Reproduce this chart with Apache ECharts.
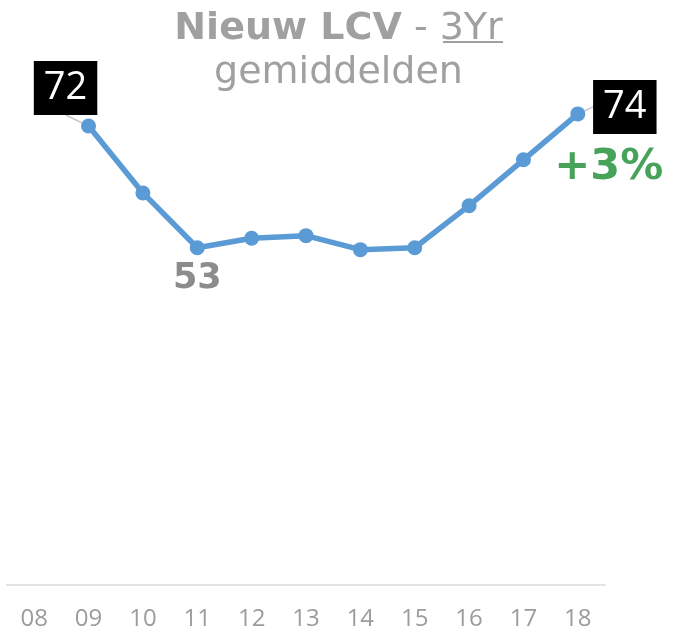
<!DOCTYPE html>
<html>
<head>
<meta charset="utf-8">
<script src="https://cdn.jsdelivr.net/npm/echarts@6/dist/echarts.min.js"></script>
<style>
  html, body { margin: 0; padding: 0; background: #fff; }
  #chart { width: 677px; height: 632px; }
</style>
</head>
<body>
<div id="chart"></div>
<script>
// data
const years = ['08', '09', '10', '11', '12', '13', '14', '15', '16', '17', '18'];
const lcv = [null, 72, 61.5, 52.9, 54.4, 54.8, 52.6, 52.9, 59.5, 66.7, 73.9];

const firstIdx = 1
const minIdx = 3
const lastIdx = lcv.length - 1
const change = Math.round((lcv[lastIdx] / lcv[firstIdx] - 1) * 100)

const grey = '#a0a0a0'
const blue = '#5b9bd5'

// per point labels
const boxLabel = {
  show: true,
  position: 'inside',
  formatter: p => Math.round(p.value),
  color: '#fff',
  fontSize: 38,
  fontFamily: 'Open Sans',
  lineHeight: 38,
  backgroundColor: '#000',
  padding: [8, 10, 8, 10]
}
const lineData = lcv.map((v, i) => {
  if (i === firstIdx || i === lastIdx) {
    return {
      value: v,
      label: boxLabel,
      labelLine: { show: true, lineStyle: { color: '#c8c8c8', width: 1.5 } }
    }
  }
  if (i === minIdx) {
    return {
      value: v,
      label: {
        show: true,
        position: 'bottom',
        distance: 6,
        formatter: p => Math.round(p.value),
        color: '#8c8c8c',
        fontSize: 35,
        fontWeight: 'bold',
        fontFamily: 'DejaVu Sans'
      }
    }
  }
  return v
})

const changeData = lcv.map((v, i) => i === lastIdx ? v : null)

var myChart = echarts.init(document.getElementById('chart'))
myChart.setOption({
  animation: false,
  title: {
    left: 'center',
    top: 2,
    text: '{b|Nieuw LCV}{n| - }{n|3Yr}\n{n|gemiddelden}',
    textStyle: {
      rich: {
        b: { fontSize: 38, fontWeight: 'bold', color: grey, fontFamily: 'DejaVu Sans', lineHeight: 44 },
        n: { fontSize: 38, fontWeight: 'normal', color: grey, fontFamily: 'DejaVu Sans', lineHeight: 44 }
      }
    }
  },
  graphic: [
    {
      // underline under 3Yr
      type: 'line',
      shape: { x1: 443, y1: 42, x2: 503, y2: 42 },
      style: { stroke: grey, lineWidth: 2 }
    }
  ],
  grid: {
    left: 7,
    right: 72,
    top: 75,
    bottom: 47
  },
  xAxis: {
    type: 'category',
    data: years,
    boundaryGap: true,
    axisLine: { lineStyle: { color: '#e3e3e3', width: 2 } },
    axisTick: { show: false },
    axisLabel: {
      color: '#9c9c9c',
      fontSize: 24,
      fontFamily: 'Open Sans',
      margin: 22
    }
  },
  yAxis: {
    type: 'value',
    min: 0,
    max: 80,
    show: false,
    splitLine: { show: false }
  },
  series: [
    {
      name: 'LCV',
      type: 'line',
      data: lineData,
      symbol: 'circle',
      symbolSize: 15,
      lineStyle: { color: blue, width: 5.5 },
      itemStyle: { color: blue },
      labelLayout: function (params) {
        if (params.dataIndex === firstIdx) return { dx: -23, dy: -38 }
        if (params.dataIndex === lastIdx) return { dx: 47, dy: -7 }
        return {}
      },
      z: 3
    },
    {
      name: 'change',
      type: 'scatter',
      data: changeData,
      symbol: 'circle',
      symbolSize: 1,
      itemStyle: { color: 'rgba(0,0,0,0)', opacity: 1 },
      silent: true,
      label: {
        show: true,
        position: 'inside',
        offset: [31, 54],
        formatter: '+' + change + '%',
        color: '#47a35a',
        fontSize: 43,
        fontWeight: 'bold',
        fontFamily: 'DejaVu Sans'
      },
      z: 2
    }
  ]
})
</script>
</body>
</html>
